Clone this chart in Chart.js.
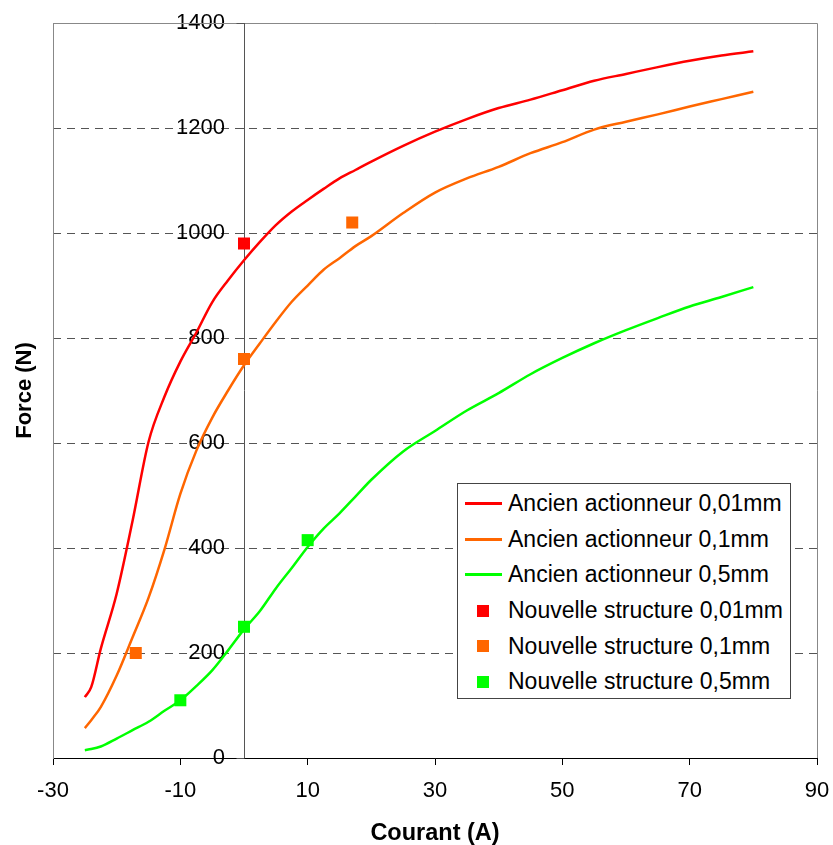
<!DOCTYPE html>
<html>
<head>
<meta charset="utf-8">
<script src="https://cdn.jsdelivr.net/npm/chart.js@4.4.0/dist/chart.umd.min.js"></script>
<style>
  body { margin: 0; background: #fff; }
  #wrap { position: relative; width: 833px; height: 845px; }
  #legend {
    position: absolute; left: 457px; top: 483px; width: 334px; height: 216px;
    box-sizing: border-box; border: 1px solid #444; background: #fff; padding-top: 2px;
    font-family: 'Liberation Sans', Arial, sans-serif; font-size: 23px; color: #000;
  }
  .row { display: flex; align-items: center; height: 35.6px; white-space: nowrap; }
  .mark { width: 50px; height: 100%; position: relative; flex: none; }
  .mark .ln { position: absolute; left: 7px; width: 37px; height: 3px; top: calc(50% - 1.5px); }
  .mark .sq { position: absolute; left: 19px; width: 12px; height: 12px; top: calc(50% - 6px); }
</style>
</head>
<body>
<div id="wrap">
  <canvas id="chart" width="833" height="845"></canvas>
  <div id="legend"></div>
</div>
<script>
// courant (A)
var currents = [-25, -24, -22.5, -20, -17.5, -15, -12.5, -10, -7.5, -5, -2.5, 0, 2.5, 5, 7.5, 10, 12.5, 15, 17.5, 20,
  25, 30, 35, 40, 45, 50, 55, 60, 65, 70, 75, 80];
// ancien actionneur, force (N)
var ancien001 = [116, 135, 208, 313, 452, 602, 688, 755, 810, 868, 910, 948, 983, 1015, 1041, 1063, 1084, 1104, 1120, 1136,
  1166, 1193, 1217, 1238, 1254, 1272, 1290, 1303, 1316, 1328, 1338, 1346];
var ancien01 = [57, 72, 97, 157, 230, 305, 397, 503, 585, 648, 700, 748, 790, 831, 869, 900, 930, 952, 975, 994,
  1038, 1077, 1104, 1126, 1152, 1173, 1197, 1212, 1226, 1241, 1255, 1269];
var ancien05 = [15, 17, 22, 37, 53, 69, 90, 110, 137, 167, 205, 245, 280, 323, 362, 402, 437, 466, 498, 530,
  584, 623, 662, 695, 731, 762, 790, 815, 838, 860, 878, 897];
// nouvelle structure, points mesures
var nouvX001 = [0];
var nouv001 = [980];
var nouvX01 = [-17, 0, 17];
var nouv01 = [200, 760, 1020];
var nouvX05 = [-10, 0, 10];
var nouv05 = [110, 250, 415];

var red = '#ff0000', orange = '#ff6600', green = '#00ff00';
var font = "'Liberation Sans', Arial, sans-serif";

function pts(xs, ys) { return xs.map((x, i) => ({x: x, y: ys[i]})); }

function curve(label, ys, color) {
  return {label: label, data: pts(currents, ys), showLine: true, borderColor: color, backgroundColor: color,
    borderWidth: 2.5, pointRadius: 0, cubicInterpolationMode: 'monotone', order: 2};
}
function marks(label, xs, ys, color) {
  return {label: label, data: pts(xs, ys), showLine: false, backgroundColor: color, borderWidth: 0,
    pointStyle: 'rect', pointRadius: 8.5, order: 1};
}

var datasets = [
  curve('Ancien actionneur 0,01mm', ancien001, red),
  curve('Ancien actionneur 0,1mm', ancien01, orange),
  curve('Ancien actionneur 0,5mm', ancien05, green),
  marks('Nouvelle structure 0,01mm', nouvX001, nouv001, red),
  marks('Nouvelle structure 0,1mm', nouvX01, nouv01, orange),
  marks('Nouvelle structure 0,5mm', nouvX05, nouv05, green)
];

// plot frame (top, right) and the vertical axis at x = 0 with its ticks
var frame = {
  id: 'frame',
  beforeDatasetsDraw(chart) {
    var a = chart.chartArea, ctx = chart.ctx, sx = chart.scales.x, sy = chart.scales.y;
    ctx.save();
    ctx.lineWidth = 1;
    ctx.strokeStyle = '#888';
    ctx.beginPath();
    ctx.moveTo(a.left, a.top + 0.5); ctx.lineTo(a.right + 0.5, a.top + 0.5); ctx.lineTo(a.right + 0.5, a.bottom);
    ctx.stroke();
    var x0 = Math.round(sx.getPixelForValue(0)) + 0.5;
    ctx.strokeStyle = '#555';
    ctx.beginPath();
    ctx.moveTo(x0, a.top); ctx.lineTo(x0, a.bottom);
    sy.ticks.forEach(function (t) {
      var py = Math.round(sy.getPixelForValue(t.value)) + 0.5;
      ctx.moveTo(x0 - 8, py); ctx.lineTo(x0, py);
    });
    ctx.stroke();
    ctx.restore();
  }
};

new Chart(document.getElementById('chart'), {
  type: 'scatter',
  data: {datasets: datasets},
  plugins: [frame],
  options: {
    responsive: false, animation: false, devicePixelRatio: 1,
    layout: {padding: {top: 23, right: 16, bottom: 0, left: 0}},
    plugins: {legend: {display: false}, tooltip: {enabled: false}},
    scales: {
      x: {
        type: 'linear', position: 'bottom', min: -30, max: 90,
        ticks: {stepSize: 20, color: '#000', font: {family: font, size: 22, lineHeight: 2.09}, padding: 3, maxRotation: 0},
        grid: {drawOnChartArea: false, color: '#000', tickLength: 7},
        border: {color: '#000', width: 1},
        title: {display: true, text: 'Courant (A)', color: '#000', font: {family: font, size: 23.5, weight: 'bold', lineHeight: 1},
          padding: {top: 4.5, bottom: 0}}
      },
      yTitle: {
        type: 'linear', position: 'left', min: 0, max: 1400,
        ticks: {display: false},
        grid: {display: false, drawTicks: false},
        border: {color: '#888', width: 1},
        title: {display: true, text: 'Force (N)', color: '#000', font: {family: font, size: 22, weight: 'bold', lineHeight: 1},
          padding: {top: 14, bottom: 17}}
      },
      y: {
        type: 'linear', position: {x: -3}, min: 0, max: 1400,
        ticks: {stepSize: 200, color: '#000', font: {family: font, size: 22}, padding: 0,
          callback: function (v) { return String(v); }},
        grid: {color: '#555', drawTicks: false},
        border: {display: false, dash: [8, 6]}
      }
    }
  }
});

// legend built from the datasets
var legend = document.getElementById('legend');
datasets.forEach(function (ds) {
  var row = document.createElement('div');
  row.className = 'row';
  var mk = document.createElement('div');
  mk.className = 'mark';
  var sym = document.createElement('div');
  sym.className = ds.showLine ? 'ln' : 'sq';
  sym.style.background = ds.showLine ? ds.borderColor : ds.backgroundColor;
  mk.appendChild(sym);
  var txt = document.createElement('span');
  txt.textContent = ds.label;
  row.appendChild(mk);
  row.appendChild(txt);
  legend.appendChild(row);
});
</script>
</body>
</html>
